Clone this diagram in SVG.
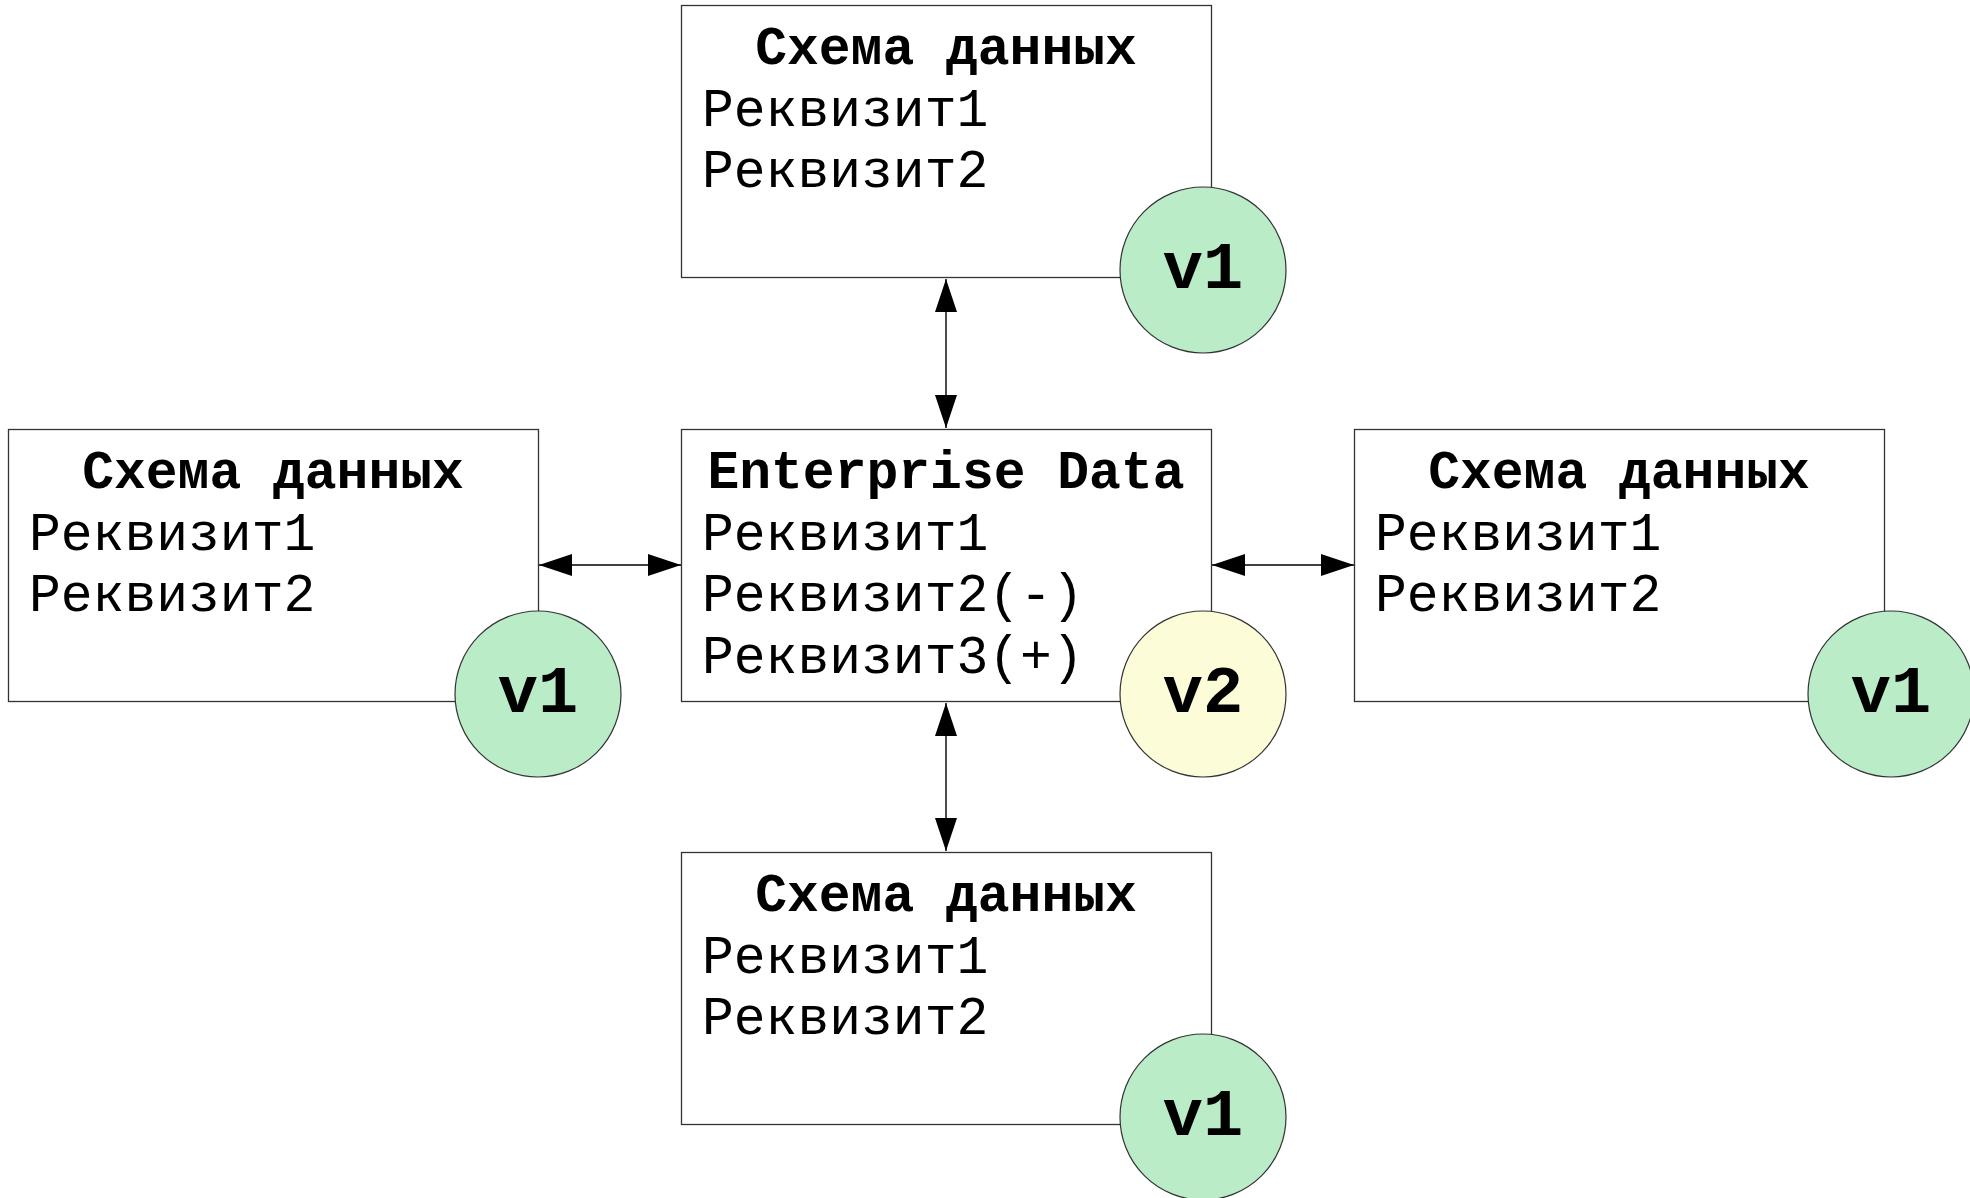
<svg xmlns="http://www.w3.org/2000/svg" width="1970" height="1198" viewBox="0 0 1970 1198">
  <style>
    .box { fill: #ffffff; stroke: #333333; stroke-width: 1.3; }
    .title { font-family: "Liberation Mono", "Courier New", monospace; font-weight: bold; font-size: 53px; fill: #000000; text-anchor: middle; }
    .item { font-family: "Liberation Mono", "Courier New", monospace; font-size: 53px; fill: #000000; }
    .ver { font-family: "Liberation Mono", "Courier New", monospace; font-weight: bold; font-size: 67px; fill: #000000; text-anchor: middle; }
    .v1 { fill: #b9ecc7; stroke: #333333; stroke-width: 1.2; }
    .v2 { fill: #fdfcd8; stroke: #333333; stroke-width: 1.2; }
    .conn { stroke: #000000; stroke-width: 1.4; fill: none; marker-start: url(#arrS); marker-end: url(#arrE); }
  </style>
  <defs>
    <marker id="arrE" markerUnits="userSpaceOnUse" markerWidth="34" markerHeight="24" refX="33" refY="11" orient="auto">
      <path d="M0,0 L33,11 L0,22 Z" fill="#000000"/>
    </marker>
    <marker id="arrS" markerUnits="userSpaceOnUse" markerWidth="34" markerHeight="24" refX="0" refY="11" orient="auto">
      <path d="M33,0 L0,11 L33,22 Z" fill="#000000"/>
    </marker>
  </defs>

  <g id="connectors">
    <line class="conn" x1="946" y1="279" x2="946" y2="428"/>
    <line class="conn" x1="946" y1="703" x2="946" y2="851"/>
    <line class="conn" x1="539" y1="565" x2="681" y2="565"/>
    <line class="conn" x1="1212" y1="565" x2="1354" y2="565"/>
  </g>

  <g id="node-top">
    <rect class="box" x="681.5" y="5.5" width="530" height="272"/>
    <text class="title" x="946" y="64">Схема данных</text>
    <text class="item" x="702" y="125.5">Реквизит1</text>
    <text class="item" x="702" y="187">Реквизит2</text>
    <circle class="v1" cx="1203" cy="270" r="83"/>
    <text class="ver" x="1203" y="288">v1</text>
  </g>

  <g id="node-left">
    <rect class="box" x="8.5" y="429.5" width="530" height="272"/>
    <text class="title" x="273" y="488">Схема данных</text>
    <text class="item" x="29" y="549.5">Реквизит1</text>
    <text class="item" x="29" y="611">Реквизит2</text>
    <circle class="v1" cx="538" cy="694" r="83"/>
    <text class="ver" x="538" y="712">v1</text>
  </g>

  <g id="node-center">
    <rect class="box" x="681.5" y="429.5" width="530" height="272"/>
    <text class="title" x="946" y="488">Enterprise Data</text>
    <text class="item" x="702" y="549.5">Реквизит1</text>
    <text class="item" x="702" y="611">Реквизит2(-)</text>
    <text class="item" x="702" y="672.5">Реквизит3(+)</text>
    <circle class="v2" cx="1203" cy="694" r="83"/>
    <text class="ver" x="1203" y="712">v2</text>
  </g>

  <g id="node-right">
    <rect class="box" x="1354.5" y="429.5" width="530" height="272"/>
    <text class="title" x="1619" y="488">Схема данных</text>
    <text class="item" x="1375" y="549.5">Реквизит1</text>
    <text class="item" x="1375" y="611">Реквизит2</text>
    <circle class="v1" cx="1891" cy="694" r="83"/>
    <text class="ver" x="1891" y="712">v1</text>
  </g>

  <g id="node-bottom">
    <rect class="box" x="681.5" y="852.5" width="530" height="272"/>
    <text class="title" x="946" y="911">Схема данных</text>
    <text class="item" x="702" y="972.5">Реквизит1</text>
    <text class="item" x="702" y="1034">Реквизит2</text>
    <circle class="v1" cx="1203" cy="1117" r="83"/>
    <text class="ver" x="1203" y="1135">v1</text>
  </g>
</svg>
